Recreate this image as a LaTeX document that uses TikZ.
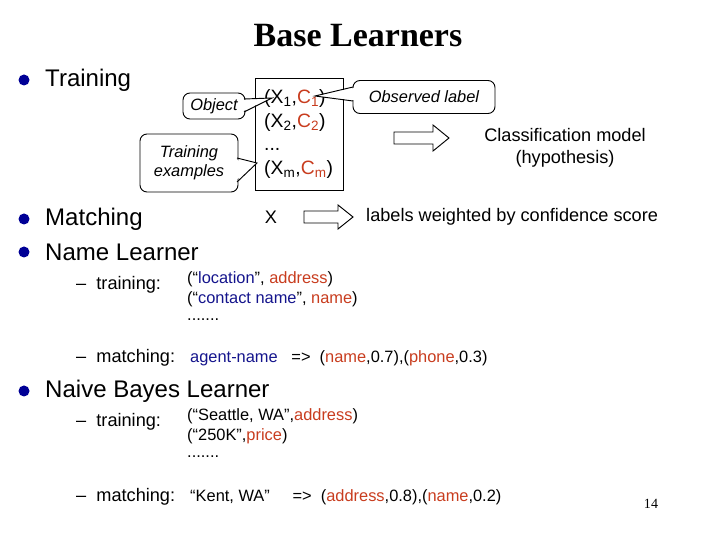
\documentclass[tikz,border=0pt]{standalone}
\usepackage{fontspec}
\setmainfont{Liberation Sans}
\newfontfamily\titlefont{Liberation Serif}
\usetikzlibrary{calc}
\definecolor{navy}{RGB}{20,20,140}
\definecolor{rust}{RGB}{200,60,30}
\definecolor{bul}{RGB}{0,0,150}
\tikzset{
  big/.style={anchor=west,inner sep=0pt,font=\fontsize{20.5}{24}\selectfont},
  mid/.style={anchor=west,inner sep=0pt,font=\fontsize{15.5}{19}\selectfont},
  sml/.style={anchor=west,inner sep=0pt,font=\fontsize{14}{17}\selectfont,align=left},
  callout/.style={draw,rounded corners=6pt,fill=white,font=\fontsize{14}{16}\selectfont\itshape,align=center,line width=0.8pt},
  blockarrow/.style={draw,line width=0.8pt,fill=white}
}
\newcommand{\bluebul}[1]{\fill[bul] (#1) circle (5.5);}
\newcommand{\red}[1]{\textcolor{rust}{#1}}
\newcommand{\blu}[1]{\textcolor{navy}{#1}}
\begin{document}
\begin{tikzpicture}[x=0.03cm,y=-0.03cm]
\useasboundingbox (0,0) rectangle (720,540);
% title
\node[font=\titlefont\bfseries\fontsize{29}{32}\selectfont] (title) at (358,36) {Base Learners};
% main bullets
\coordinate (b1) at (24,80); \bluebul{b1}
\node[big] (train) at (45,80) {Training};
\coordinate (b2) at (24,219); \bluebul{b2}
\node[big] (match) at (45,219) {Matching};
\coordinate (b3) at (24,252); \bluebul{b3}
\node[big] (name) at (45,252) {Name Learner};
\coordinate (b4) at (24,391); \bluebul{b4}
\node[big] (bayes) at (45,391) {Naive Bayes Learner};
% examples box
\node[draw,line width=0.8pt,minimum width=88*0.03cm,minimum height=112*0.03cm] (box) at (299,134) {};
\node[font=\fontsize{16.5}{20}\selectfont,anchor=west,inner sep=0pt,align=left] (pairs) at (264,134) {%
  (X\textsubscript{1},\red{C\textsubscript{1}})\\(X\textsubscript{2},\red{C\textsubscript{2}})\\...\\(X\textsubscript{m},\red{C\textsubscript{m}})};
% callouts
\node[callout,minimum width=62*0.03cm,minimum height=26*0.03cm] (obj) at (214,106) {Object};
\fill[white] (243,100) -- (272,98) -- (243,111) -- cycle;
\draw[line width=0.8pt] (244,99) -- (272,98) -- (244,112);
\node[callout,minimum width=142*0.03cm,minimum height=33*0.03cm] (obs) at (424,97) {Observed label};
\fill[white] (354,88) -- (315,96) -- (354,100) -- cycle;
\draw[line width=0.8pt] (353,87) -- (315,96) -- (353,101);
\node[callout,minimum width=98*0.03cm,minimum height=58*0.03cm] (texs) at (189,163) {Training\\examples};
\fill[white] (236,160) -- (257,163) -- (236,180) -- cycle;
\draw[line width=0.8pt] (237,158) -- (257,163) -- (237,182);
% block arrows
\draw[blockarrow] (394,132) -- (433,132) -- (433,125) -- (449,138) -- (433,151) -- (433,144) -- (394,144) -- cycle;
\draw[blockarrow] (304,211) -- (338,211) -- (338,205) -- (353,217) -- (338,229) -- (338,223) -- (304,223) -- cycle;
\node[mid,anchor=center,align=center] (model) at (565,148) {Classification model\\(hypothesis)};
\node[mid,anchor=center] (x) at (271,217) {X};
\node[mid] (weighted) at (366,217) {labels weighted by confidence score};
% name learner
\node[mid] (dash1) at (76,285) {--\ \ training:};
\node[sml] (ex1) at (187,296) {(“\blu{location}”, \red{address})\\(“\blu{contact name}”, \red{name})\\[-3pt].......};
\node[mid] (dash2) at (76,358) {--\ \ matching:};
\node[sml] (res1) at (190,358) {\blu{agent-name}\ \ \ =>\ \ (\red{name},0.7),(\red{phone},0.3)};
% naive bayes
\node[mid] (dash3) at (76,422) {--\ \ training:};
\node[sml] (ex2) at (187,433) {(“Seattle, WA”,\red{address})\\(“250K”,\red{price})\\[-3pt].......};
\node[mid] (dash4) at (76,497) {--\ \ matching:};
\node[sml] (res2) at (190,497) {“Kent, WA”\ \ \ \ \ =>\ \ (\red{address},0.8),(\red{name},0.2)};
\node[font=\titlefont\fontsize{12}{14}\selectfont] (page) at (651,504) {14};
\end{tikzpicture}
\end{document}
